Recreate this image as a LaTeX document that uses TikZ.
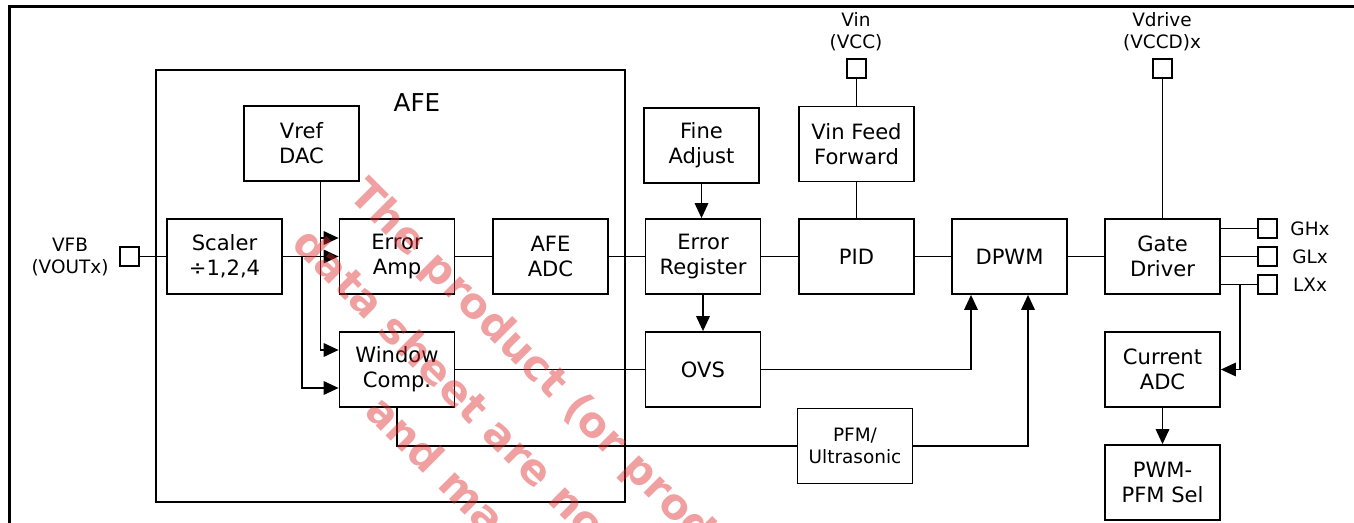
\documentclass[tikz,border=0pt]{standalone}
\usepackage{fontspec}
\setmainfont{DejaVu Sans}
\usetikzlibrary{arrows.meta, calc, positioning}
\definecolor{markred}{RGB}{222,45,45}
\tikzset{
  blockbox/.style={draw, line width=1pt, minimum width=2.3cm, minimum height=1.5cm, align=center, inner sep=0pt, font=\fontsize{12}{14.2}\selectfont}
}
\tikzset{
  pinbox/.style={draw, line width=1pt, minimum size=0.38cm, inner sep=0pt}
}
\tikzset{
  smalltext/.style={align=center, inner sep=0pt, font=\fontsize{10.5}{12.5}\selectfont}
}
\tikzset{
  marktext/.style={anchor=base west, rotate=-45, inner sep=0pt, text=markred, text opacity=0.45, font=\bfseries\fontsize{24}{28}\selectfont}
}

\begin{document}
\begin{tikzpicture}[x=0.02cm, y=-0.02cm, >={Triangle[length=3mm, width=2.7mm]}, line width=1pt]
  \clip (0,0) rectangle (1354,523);
  \draw[line width=1.8pt] (9.5,540) |- (1370,6.5);

  \node[blockbox, minimum width=9.38cm, minimum height=8.64cm] (afe) at (390.5,286) {};
  \node[font=\fontsize{14}{16}\selectfont] (afetitle) at (417,103) {AFE};
  \node[blockbox] (vref) at (301.5,143.5) {Vref\\DAC};
  \node[blockbox] (scaler) at (224.5,256.5) {Scaler\\÷1,2,4};
  \node[blockbox] (erramp) at (397,256.5) {Error\\Amp};
  \node[blockbox] (wincomp) at (397,369.5) {Window\\Comp.};
  \node[blockbox] (afeadc) at (550.5,256.5) {AFE\\ADC};
  \node[blockbox] (fine) at (701.5,145.5) {Fine\\Adjust};
  \node[blockbox] (errreg) at (703,256.5) {Error\\Register};
  \node[blockbox] (ovs) at (703,369.5) {OVS};
  \node[blockbox] (vff) at (856.5,144) {Vin Feed\\Forward};
  \node[blockbox] (pid) at (856.5,256.5) {PID};
  \node[blockbox, font=\fontsize{10.5}{12.5}\selectfont] (pfm) at (855,446) {PFM/\\Ultrasonic};
  \node[blockbox] (dpwm) at (1009.5,256.5) {DPWM};
  \node[blockbox] (gate) at (1162.5,256.5) {Gate\\Driver};
  \node[blockbox] (curadc) at (1162.5,369.5) {Current\\ADC};
  \node[blockbox] (pwmsel) at (1162.5,482.5) {PWM-\\PFM Sel};

  \node[pinbox] (vfbpin) at (129.5,256.5) {};
  \node[pinbox] (vinpin) at (856.5,68.5) {};
  \node[pinbox] (vdrvpin) at (1162.5,68.5) {};
  \node[pinbox] (ghpin) at (1267.5,228.5) {};
  \node[pinbox] (glpin) at (1267.5,256.5) {};
  \node[pinbox] (lxpin) at (1267.5,284.5) {};
  \node[smalltext] (vfblabel) at (70,257) {VFB\\(VOUTx)};
  \node[smalltext] (vinlabel) at (856,32) {Vin\\(VCC)};
  \node[smalltext] (vdrvlabel) at (1162,32) {Vdrive\\(VCCD)x};
  \node[smalltext] (ghlabel) at (1310,228.5) {GHx};
  \node[smalltext] (gllabel) at (1310,256.5) {GLx};
  \node[smalltext] (lxlabel) at (1310,284.5) {LXx};

  \draw (vfbpin) -- (scaler);
  \draw[->] (scaler) -- (erramp);
  \coordinate (scalertap) at ($(scaler.east)+(19,0)$);
  \draw[->] (scalertap) |- ($(wincomp.west)+(0,18.5)$);
  \coordinate (vreftap) at ($(vref.south)+(19,0)$);
  \coordinate (ampin) at ($(erramp.west)+(0,-18.5)$);
  \draw[->] (vreftap) |- ($(wincomp.west)+(0,-19.5)$);
  \draw[->] (vreftap |- ampin) -- (ampin);
  \draw (erramp) -- (afeadc);
  \draw (afeadc) -- (errreg);
  \draw (errreg) -- (pid);
  \draw (pid) -- (dpwm);
  \draw (dpwm) -- (gate);
  \draw[->] (fine.south) -- (fine.south |- errreg.north);
  \draw[->] (errreg) -- (ovs);
  \draw (wincomp) -- (ovs);
  \draw[->] (ovs) -| ($(dpwm.south)+(-38.5,0)$);
  \draw (wincomp) |- (pfm);
  \draw[->] (pfm) -| ($(dpwm.south)+(18.5,0)$);
  \draw (vinpin) -- (vff);
  \draw (vff) -- (pid);
  \draw (vdrvpin) -- (gate);
  \draw (gate.east |- ghpin) -- (ghpin);
  \draw (gate) -- (glpin);
  \draw (gate.east |- lxpin) -- (lxpin);
  \coordinate (lxtap) at ($(gate.east |- lxpin)+(19,0)$);
  \draw[->] (lxtap) |- (curadc);
  \draw[->] (curadc) -- (pwmsel);

  \node[marktext] (mark1) at (347,196) {The product (or prod};
  \node[marktext] (mark2) at (290,245) {data sheet are no};
  \node[marktext] (mark3) at (363,413) {and ma};
\end{tikzpicture}
\end{document}
